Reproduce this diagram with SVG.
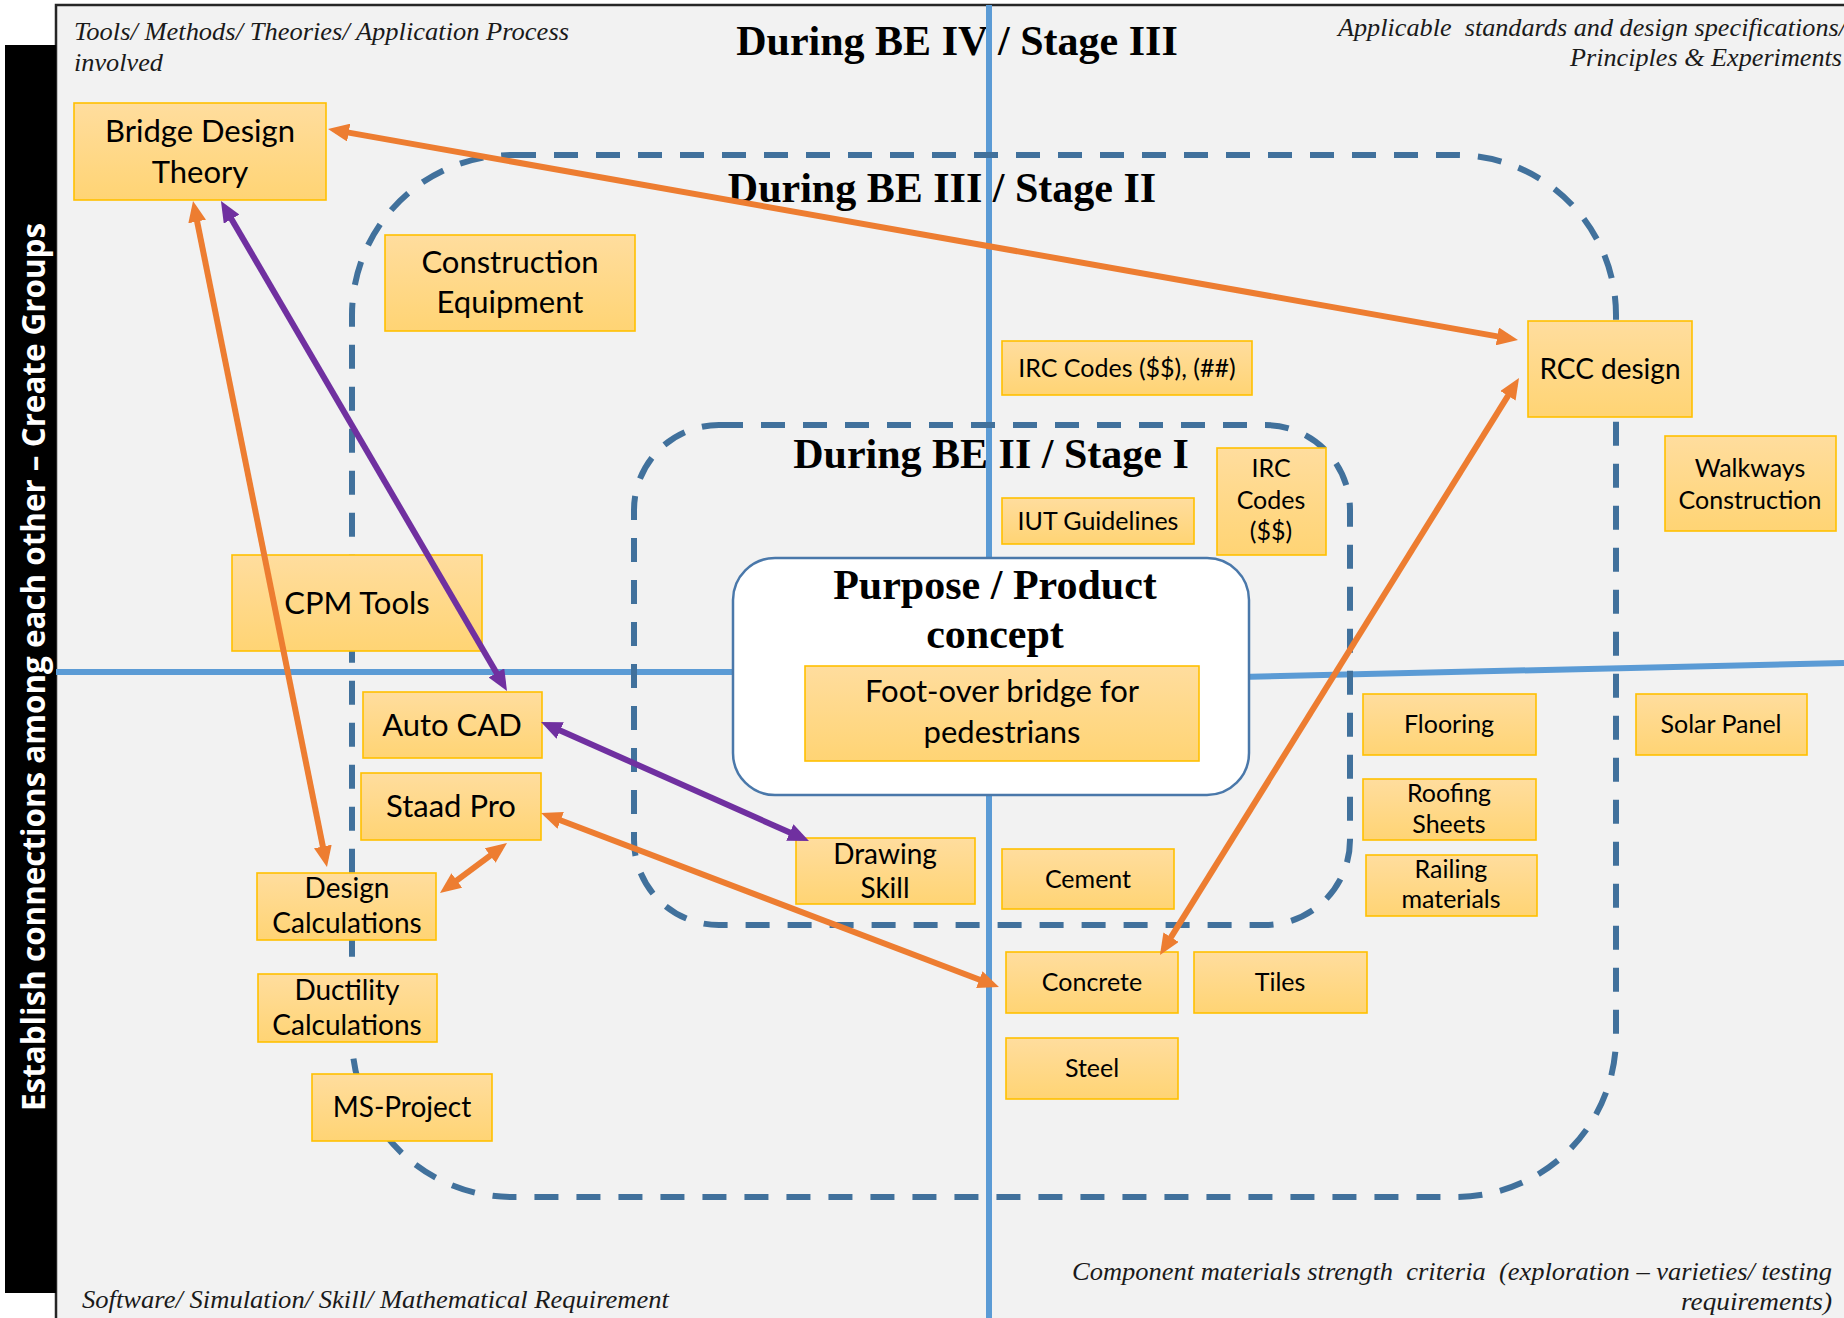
<svg xmlns="http://www.w3.org/2000/svg" width="1844" height="1318" viewBox="0 0 1844 1318">
<style>
.node rect{fill:url(#gold);stroke:#ffc000;stroke-width:1.6}
.node text{font-family:Lato,"Liberation Sans",sans-serif;fill:#000;text-anchor:middle}
.f31{font-size:31px}.f28{font-size:28px}.f25{font-size:25px}
.title{font-family:"Liberation Serif",serif;font-weight:bold;font-size:42px;fill:#000;text-anchor:middle}
.corner{font-family:"Liberation Serif",serif;font-style:italic;font-size:26px;fill:#1a1a1a}
.quad{stroke:#5b9bd5;stroke-width:6;fill:none}
.dash{fill:none;stroke:#41719c;stroke-width:6;stroke-dasharray:24 18}
.or{stroke:#ed7d31;stroke-width:6;fill:none;marker-start:url(#ao);marker-end:url(#ao)}
.pu{stroke:#7030a0;stroke-width:6;fill:none;marker-start:url(#ap);marker-end:url(#ap)}
</style>
<defs>
<linearGradient id="gold" x1="0" y1="0" x2="0" y2="1">
<stop offset="0" stop-color="#ffdd9e"/>
<stop offset="1" stop-color="#ffd474"/>
</linearGradient>
<marker id="ao" markerUnits="userSpaceOnUse" markerWidth="21" markerHeight="18" viewBox="0 0 21 18" refX="13" refY="9" orient="auto-start-reverse">
<path d="M0,0 L21,9 L0,18 z" fill="#ed7d31"/>
</marker>
<marker id="ap" markerUnits="userSpaceOnUse" markerWidth="21" markerHeight="18" viewBox="0 0 21 18" refX="13" refY="9" orient="auto-start-reverse">
<path d="M0,0 L21,9 L0,18 z" fill="#7030a0"/>
</marker>
</defs>
<rect x="0" y="0" width="1844" height="1318" fill="#ffffff"/>
<rect x="56" y="5" width="1800" height="1330" fill="#f2f2f2" stroke="#262626" stroke-width="2.5"/>
<g id="side-bar">
<rect x="5" y="45" width="51" height="1248" fill="#000"/>
<text transform="translate(45,667) rotate(-90)" text-anchor="middle" font-family="'Open Sans','DejaVu Sans',sans-serif" font-weight="bold" font-size="32" fill="#fff" textLength="888" lengthAdjust="spacingAndGlyphs">Establish connections among each other – Create Groups</text>
</g>
<g id="corner-labels">
<text class="corner" x="74" y="40" textLength="495" lengthAdjust="spacingAndGlyphs">Tools/ Methods/ Theories/ Application Process</text>
<text class="corner" x="74" y="71" textLength="89" lengthAdjust="spacingAndGlyphs">involved</text>
<text class="corner" x="1338" y="36" textLength="508" lengthAdjust="spacingAndGlyphs" xml:space="preserve">Applicable  standards and design specifications/</text>
<text class="corner" x="1570" y="66" textLength="272" lengthAdjust="spacingAndGlyphs">Principles &amp; Experiments</text>
<text class="corner" x="82" y="1308" textLength="587" lengthAdjust="spacingAndGlyphs">Software/ Simulation/ Skill/ Mathematical Requirement</text>
<text class="corner" x="1072" y="1280" textLength="760" lengthAdjust="spacingAndGlyphs" xml:space="preserve">Component materials strength  criteria  (exploration – varieties/ testing</text>
<text class="corner" x="1681" y="1310" textLength="151" lengthAdjust="spacingAndGlyphs">requirements)</text>
</g>
<g id="stage-titles">
<text class="title" x="957" y="55">During BE IV / Stage III</text>
<text class="title" x="942" y="202">During BE III / Stage II</text>
<text class="title" x="991" y="468">During BE II / Stage I</text>
</g>
<g id="quadrant-lines">
<line class="quad" x1="989" y1="5" x2="989" y2="1318"/>
<line class="quad" x1="56" y1="672" x2="740" y2="672"/>
<line class="quad" x1="1240" y1="677" x2="1844" y2="663"/>
</g>
<g id="stage-boundaries">
<rect id="stage2" class="dash" x="352" y="155" width="1264" height="1042" rx="160" ry="160"/>
<rect id="stage1" class="dash" x="634" y="425" width="716" height="500" rx="85" ry="85"/>
</g>
<g id="purpose">
<rect x="733" y="558" width="516" height="237" rx="42" ry="42" fill="#fff" stroke="#4a78aa" stroke-width="2.5"/>
<text class="title" x="995" y="599">Purpose / Product</text>
<text class="title" x="995" y="648">concept</text>
</g>
<g id="foot-over" class="node"><rect x="805" y="666" width="394" height="95"/><text class="f31" x="1002" y="702">Foot-over bridge for</text><text class="f31" x="1002" y="743">pedestrians</text></g>
<g id="bridge-design-theory" class="node"><rect x="74" y="103" width="252" height="97"/><text class="f31" x="200" y="142">Bridge Design</text><text class="f31" x="200" y="183">Theory</text></g>
<g id="construction-equipment" class="node"><rect x="385" y="235" width="250" height="96"/><text class="f31" x="510" y="273">Construction</text><text class="f31" x="510" y="313">Equipment</text></g>
<g id="cpm-tools" class="node"><rect x="232" y="555" width="250" height="96"/><text class="f31" x="357" y="614">CPM Tools</text></g>
<g id="auto-cad" class="node"><rect x="363" y="692" width="179" height="66"/><text class="f31" x="452" y="736">Auto CAD</text></g>
<g id="staad-pro" class="node"><rect x="361" y="773" width="180" height="67"/><text class="f31" x="451" y="817">Staad Pro</text></g>
<g id="design-calculations" class="node"><rect x="257" y="873" width="179" height="67"/><text class="f28" x="347" y="898">Design</text><text class="f28" x="347" y="933">Calculations</text></g>
<g id="ductility-calculations" class="node"><rect x="258" y="974" width="179" height="68"/><text class="f28" x="347" y="1000">Ductility</text><text class="f28" x="347" y="1035">Calculations</text></g>
<g id="ms-project" class="node"><rect x="312" y="1074" width="180" height="67"/><text class="f28" x="402" y="1117">MS-Project</text></g>
<g id="irc-codes-1" class="node"><rect x="1002" y="341" width="250" height="54"/><text class="f25" x="1127" y="377">IRC Codes ($$), (##)</text></g>
<g id="iut-guidelines" class="node"><rect x="1002" y="498" width="192" height="46"/><text class="f25" x="1098" y="530">IUT Guidelines</text></g>
<g id="irc-codes-2" class="node"><rect x="1217" y="448" width="109" height="107"/><text class="f25" x="1271" y="477">IRC</text><text class="f25" x="1271" y="509">Codes</text><text class="f25" x="1271" y="540">($$)</text></g>
<g id="drawing-skill" class="node"><rect x="796" y="838" width="179" height="66"/><text class="f28" x="885" y="864">Drawing</text><text class="f28" x="885" y="898">Skill</text></g>
<g id="cement" class="node"><rect x="1002" y="849" width="172" height="60"/><text class="f25" x="1088" y="888">Cement</text></g>
<g id="concrete" class="node"><rect x="1006" y="952" width="172" height="61"/><text class="f25" x="1092" y="991">Concrete</text></g>
<g id="tiles" class="node"><rect x="1194" y="952" width="173" height="61"/><text class="f25" x="1280" y="991">Tiles</text></g>
<g id="steel" class="node"><rect x="1006" y="1038" width="172" height="61"/><text class="f25" x="1092" y="1077">Steel</text></g>
<g id="flooring" class="node"><rect x="1363" y="694" width="173" height="61"/><text class="f25" x="1449" y="733">Flooring</text></g>
<g id="roofing-sheets" class="node"><rect x="1363" y="779" width="173" height="61"/><text class="f25" x="1449" y="802">Roofing</text><text class="f25" x="1449" y="833">Sheets</text></g>
<g id="railing-materials" class="node"><rect x="1366" y="855" width="171" height="61"/><text class="f25" x="1451" y="878">Railing</text><text class="f25" x="1451" y="908">materials</text></g>
<g id="solar-panel" class="node"><rect x="1636" y="694" width="171" height="61"/><text class="f25" x="1721" y="733">Solar Panel</text></g>
<g id="rcc-design" class="node"><rect x="1528" y="321" width="164" height="96"/><text class="f28" x="1610" y="379">RCC design</text></g>
<g id="walkways-construction" class="node"><rect x="1665" y="436" width="171" height="95"/><text class="f25" x="1750" y="477">Walkways</text><text class="f25" x="1750" y="509">Construction</text></g>
<g id="connectors">
<line class="or" x1="335.9" y1="130.4" x2="1510.1" y2="338.6"/>
<line class="or" x1="194.6" y1="208.8" x2="325.4" y2="859.2"/>
<line class="pu" x1="225" y1="207.9" x2="503" y2="684.1"/>
<line class="pu" x1="548.3" y1="725.2" x2="801.7" y2="837.8"/>
<line class="or" x1="548.5" y1="815.8" x2="991.5" y2="984.2"/>
<line class="or" x1="500.6" y1="847.8" x2="446.4" y2="888.2"/>
<line class="or" x1="1164.2" y1="948.2" x2="1514.8" y2="384.8"/>
</g>
</svg>
